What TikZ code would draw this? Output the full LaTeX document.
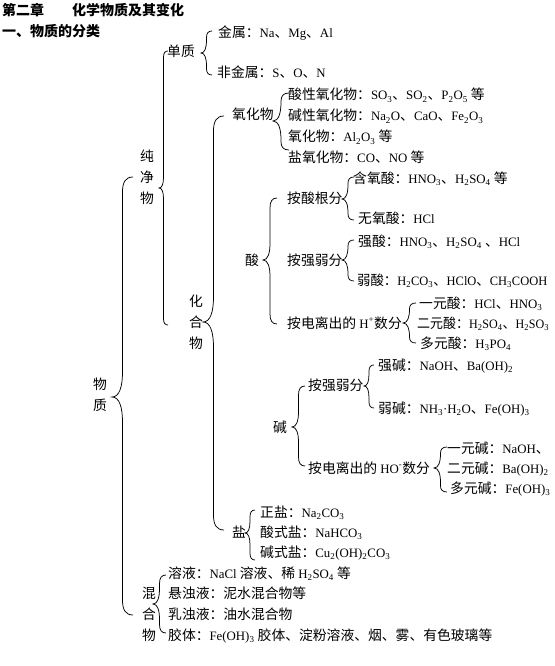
\documentclass[tikz,border=0pt]{standalone}
\usepackage{fontspec}
\usepackage{graphicx}
\setmainfont[Scale=0.93]{Liberation Serif}
\newfontfamily\cjk{Noto Sans CJK SC}
\newcount\cjkcnt
\newXeTeXintercharclass\CJKcls
\def\setcjkrange#1#2{\cjkcnt=#1\relax\loop\XeTeXcharclass\cjkcnt=\CJKcls\relax\ifnum\cjkcnt<#2\advance\cjkcnt by 1\repeat}
\setcjkrange{"3000}{"303F}
\setcjkrange{"4E00}{"9FFF}
\setcjkrange{"FF00}{"FFEF}
\XeTeXinterchartoks 0 \CJKcls = {\begingroup\cjk}
\XeTeXinterchartoks 4095 \CJKcls = {\begingroup\cjk}
\XeTeXinterchartoks \CJKcls 0 = {\endgroup}
\XeTeXinterchartoks \CJKcls 4095 = {\endgroup}
\XeTeXinterchartokenstate=1
\newcommand\sub[1]{\textsubscript{#1}}
\newcommand\sups[1]{\textsuperscript{#1}}
\tikzset{
 txt/.style={anchor=base west, inner sep=0pt, font=\fontsize{13.8}{16}\selectfont},
 vstack/.style={align=center, inner sep=0pt, font=\fontsize{13.8}{21}\selectfont},
 ttl/.style={anchor=base west, inner sep=0pt, font=\fontsize{14}{16}\selectfont\bfseries},
 brl/.style={line width=0.75pt, black}
}
\newcommand\brc[5]{%
 \pgfmathsetmacro\bzA{#1-#2}%
 \pgfmathsetmacro\bzV{(#1+#2)/2}%
 \pgfmathsetmacro\bzE{min(0.7*\bzA,0.3*(#4-#3),0.3*(#5-#4))}%
 \pgfmathsetmacro\bzT{min(1.2*\bzA,#4-#3-\bzE,#5-#4-\bzE)}%
 \draw[brl] (#1,#3) .. controls (\bzV+0.15*\bzA,#3) and (\bzV,#3+0.35*\bzE) .. (\bzV,#3+\bzE)
   -- (\bzV,#4-\bzT) .. controls (\bzV,#4-0.4*\bzT) and (#2+0.35*\bzA,#4) .. (#2,#4)
   .. controls (#2+0.35*\bzA,#4) and (\bzV,#4+0.4*\bzT) .. (\bzV,#4+\bzT)
   -- (\bzV,#5-\bzE) .. controls (\bzV,#5-0.35*\bzE) and (\bzV+0.15*\bzA,#5) .. (#1,#5);
}
\begin{document}
\begin{tikzpicture}[x=1pt,y=-1pt]
\useasboundingbox[fill=white] (0,0) rectangle (554,666);
% titles
\node[ttl] (t1) at (2,16) {第二章　　化学物质及其变化};
\node[ttl] (t2) at (2,37) {一、物质的分类};
% level 0/1 labels
\node[vstack] (wz) at (100,395) {物\\质};
\node[vstack] (cjw) at (147,177) {纯\\净\\物};
\node[vstack] (hhw) at (196,322) {化\\合\\物};
\node[vstack] (hhw2) at (149,614) {混\\合\\物};
% 单质
\node[txt] (dz) at (167,57) {单质};
\node[txt] (js) at (218,38) {金属：Na、Mg、Al};
\node[txt] (fjs) at (217,78) {非金属：S、O、N};
% 氧化物
\node[txt] (yhw) at (232,120) {氧化物};
\node[txt] (sx) at (288,100) {酸性氧化物：SO\sub{3}、SO\sub{2}、P\sub{2}O\sub{5} 等};
\node[txt] (jx) at (288,121) {碱性氧化物：Na\sub{2}O、CaO、Fe\sub{2}O\sub{3}};
\node[txt] (lx) at (288,142) {氧化物：Al\sub{2}O\sub{3} 等};
\node[txt] (yx) at (288,162) {盐氧化物：CO、NO 等};
% 酸
\node[txt] (suan) at (245,265) {酸};
\node[txt] (asgf) at (287,203) {按酸根分};
\node[txt] (hys) at (353,183) {含氧酸：HNO\sub{3}、H\sub{2}SO\sub{4} 等};
\node[txt] (wys) at (358,223) {无氧酸：HCl};
\node[txt] (aqr1) at (287,265) {按强弱分};
\node[txt] (qs) at (358,246) {强酸：HNO\sub{3}、H\sub{2}SO\sub{4} 、HCl};
\node[txt] (rs) at (357,285) {\scalebox{0.97}[1]{弱酸：H\sub{2}CO\sub{3}、HClO、CH\sub{3}COOH}};
\node[txt] (adl1) at (287,328) {按电离出的 H\sups{+}数分};
\node[txt] (yys) at (419,308) {一元酸：HCl、HNO\sub{3}};
\node[txt] (eys) at (417,328) {\scalebox{0.94}[1]{二元酸：H\sub{2}SO\sub{4}、H\sub{2}SO\sub{3}}};
\node[txt] (dys) at (420,348) {多元酸：H\sub{3}PO\sub{4}};
% 碱
\node[txt] (jian) at (273,432) {碱};
\node[txt] (aqr2) at (308,390) {按强弱分};
\node[txt] (qj) at (378,370) {强碱：NaOH、Ba(OH)\sub{2}};
\node[txt] (rj) at (378,413) {弱碱：NH\sub{3}·H\sub{2}O、Fe(OH)\sub{3}};
\node[txt] (adl2) at (308,473) {按电离出的 HO\sups{-}数分};
\node[txt] (yyj) at (447,453) {一元碱：NaOH、};
\node[txt] (eyj) at (447,473) {二元碱：Ba(OH)\sub{2}};
\node[txt] (dyj) at (450,493) {多元碱：Fe(OH)\sub{3}};
% 盐
\node[txt] (yan) at (232,537) {盐};
\node[txt] (zy) at (260,517) {正盐：Na\sub{2}CO\sub{3}};
\node[txt] (sy) at (260,537) {酸式盐：NaHCO\sub{3}};
\node[txt] (jsy) at (260,557) {碱式盐：Cu\sub{2}(OH)\sub{2}CO\sub{3}};
% 混合物
\node[txt] (ry) at (168,578) {溶液：NaCl 溶液、稀 H\sub{2}SO\sub{4} 等};
\node[txt] (xzy) at (168,598) {悬浊液：泥水混合物等};
\node[txt] (rzy) at (168,619) {乳浊液：油水混合物};
\node[txt] (jt) at (168,640) {胶体：Fe(OH)\sub{3} 胶体、淀粉溶液、烟、雾、有色玻璃等};
% braces: xend, xtip, ytop, ytip, ybot
\brc{133}{112}{177}{397}{615}
\brc{168}{159}{51}{188}{325}
\brc{212}{201}{31}{53}{75}
\brc{224}{203}{116}{322}{530}
\brc{289}{273}{93}{121}{150}
\brc{277}{263}{198}{260}{324}
\brc{354}{342}{177}{199}{220}
\brc{354}{342}{240}{260}{281}
\brc{416}{403}{303}{323}{343}
\brc{305}{292}{386}{427}{466}
\brc{374}{364}{365}{386}{408}
\brc{447}{434}{447}{468}{492}
\brc{255}{245}{510}{533}{560}
\brc{166}{153}{575}{604}{633}
\end{tikzpicture}
\end{document}
